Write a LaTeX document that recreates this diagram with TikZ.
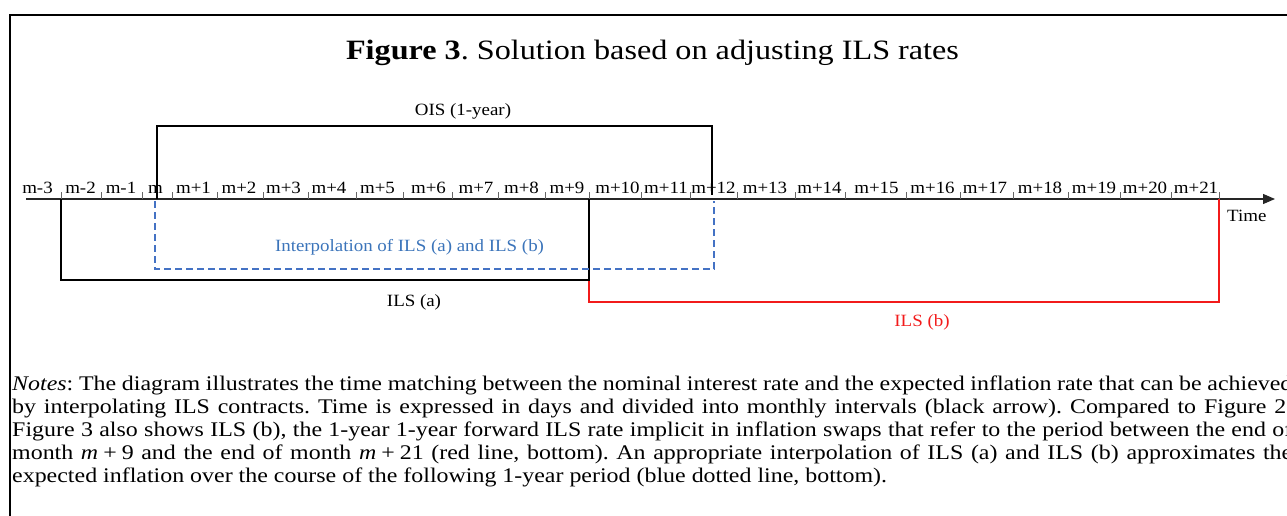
\documentclass[tikz,border=0pt]{standalone}
\usepackage{fontspec}
\setmainfont{Liberation Serif}[FakeStretch=1.15]
\newfontfamily\labelfont{Liberation Serif}[FakeStretch=1.1]
\usetikzlibrary{arrows.meta,positioning,calc}
\definecolor{ils-blue}{HTML}{4472C4}
\definecolor{ils-bluetext}{HTML}{3B74BA}
\definecolor{ils-red}{HTML}{F21B1B}
\tikzset{
  month/.style={font=\labelfont\fontsize{17.2}{19}\selectfont, anchor=base, inner sep=0pt},
  tag/.style={font=\labelfont\fontsize{17.2}{19}\selectfont, anchor=base, inner sep=0pt},
  noteline/.style={font=\fontsize{20.8}{23}\selectfont, anchor=base west, inner sep=0pt},
  tick/.style={line width=0.8pt, black!60},
  period/.style={line width=1.4pt},
}
\frenchspacing

\begin{document}
\begin{tikzpicture}[x=1pt, y=-1pt]
    \useasboundingbox (0,0) rectangle (1287,516);
    \clip (0,0) rectangle (1287,516);
    \draw[line width=2pt] (10,530) -- (10,15) -- (1300,15);

    \node[anchor=base, inner sep=0pt, font=\fontsize{28}{32}\selectfont] (title) at (652.5,60)
        {\textbf{Figure 3}. Solution based on adjusting ILS rates};

    % time axis with month labels
    \coordinate (axis0) at (26,199);
    \coordinate (axis1) at (1275,199);
    \draw[line width=1.1pt, black!85, -{Triangle[length=12pt, width=10pt]}] (axis0) -- (axis1);
    \node[anchor=base west, inner sep=0pt, font=\labelfont\fontsize{17.2}{19}\selectfont] (time) at (1227,221) {Time};

    \foreach \x/\lab [count=\i] in {37.5/m-3, 80.5/m-2, 121/m-1, 155.5/m, 193.5/m+1, 239/m+2,
        283.5/m+3, 329/m+4, 377.5/m+5, 428.5/m+6, 476/m+7, 521.5/m+8, 567/m+9, 617.5/m+10,
        666/m+11, 713.5/m+12, 765/m+13, 819.5/m+14, 876.5/m+15, 932.5/m+16, 985/m+17,
        1040/m+18, 1094/m+19, 1145/m+20, 1196/m+21}
        \node[month] (lab\i) at (\x,193) {\lab};

    \foreach \x [count=\i] in {61, 101, 142, 172, 217, 263, 308, 356, 403, 452, 498, 545, 589,
        641, 690, 737, 795, 845, 906, 960, 1013, 1068, 1120, 1171, 1219}
    {
        \coordinate (tk\i) at (\x,199);
        \draw[tick] (tk\i) -- ++(0,-7);
    }

    % contracts
    \coordinate (oisL) at (157,199);
    \coordinate (oisR) at (712,195);
    \draw[period] (oisL) -- ++(0,-73) -| (oisR);
    \node[tag] (ois) at (463,116) {OIS (1-year)};

    \draw[period, ils-red] (tk13) -- ++(0,103) -| (tk25);
    \node[tag, text=ils-red] (ilsb) at (922,326) {ILS (b)};

    \draw[period] (tk1) -- ++(0,81) -| (tk13);
    \node[tag] (ilsa) at (414,306) {ILS (a)};

    \coordinate (intL) at (155,201);
    \coordinate (intR) at (714,201);
    \draw[line width=2pt, ils-blue, dash pattern=on 7pt off 4pt] (intL) -- ++(0,68) -| (intR);
    \node[tag, text=ils-bluetext] (interp) at (409.5,251) {Interpolation of ILS (a) and ILS (b)};

    % notes
    \node[noteline] (note1) at (12,390) {\makebox[1280pt][s]{\textit{Notes}: The diagram illustrates the time matching between the nominal interest rate and the expected inflation rate that can be achieved}};
    \node[noteline] (note2) at (12,413) {\makebox[1280pt][s]{by interpolating ILS contracts. Time is expressed in days and divided into monthly intervals (black arrow). Compared to Figure 2,}};
    \node[noteline] (note3) at (12,436) {\makebox[1280pt][s]{Figure 3 also shows ILS (b), the 1-year 1-year forward ILS rate implicit in inflation swaps that refer to the period between the end of}};
    \node[noteline] (note4) at (12,459) {\makebox[1280pt][s]{month \textit{m}\hspace{5pt}+\hspace{5pt}9 and the end of month \textit{m}\hspace{5pt}+\hspace{5pt}21 (red line, bottom). An appropriate interpolation of ILS (a) and ILS (b) approximates the}};
    \node[noteline] (note5) at (12,482) {expected inflation over the course of the following 1-year period (blue dotted line, bottom).};
\end{tikzpicture}
\end{document}
